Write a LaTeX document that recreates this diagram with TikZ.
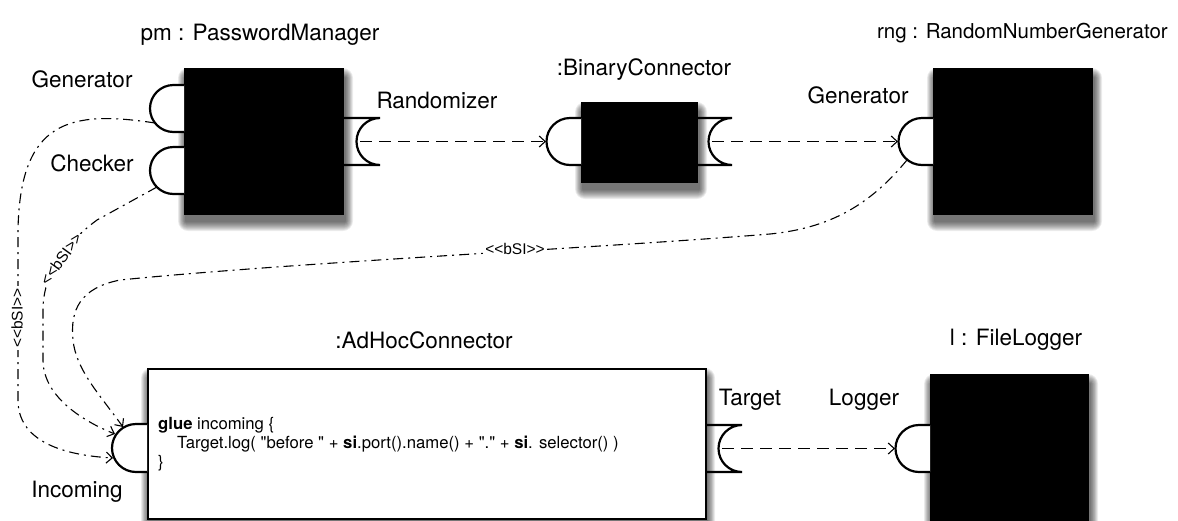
\documentclass[tikz,border=0pt]{standalone}
\usepackage{fontspec}
\setmainfont{TeX Gyre Heros}[Ligatures=TeXOff]
\newfontfamily\stfont{Liberation Sans}[Ligatures=TeXOff]
\usetikzlibrary{arrows.meta}
\newcommand\mysoftshadow[4]{%
  \foreach \i in {1,...,10}{%
    \fill[black, opacity=0.075, rounded corners=\i pt] ({#1+2-0.8*\i},{#2+10-\i}) rectangle ({#3+2+0.8*\i},{#4+7+\i});
  }}
\begin{document}
\begin{tikzpicture}[x=1pt,y=-1pt,
  comp/.style={fill=black, draw=black, line width=0.5pt, inner sep=0pt, anchor=north west},
  codebox/.style={fill=white, draw=black, line width=2.2pt, inner sep=0pt, anchor=north west},
  port/.style={line width=2.2pt, fill=white},
  lbl/.style={font=\fontsize{22.5}{27}\selectfont, inner sep=0pt},
  code/.style={font=\fontsize{16.7}{19}\selectfont, inner sep=0pt, anchor=base west},
  dep/.style={line width=1.1pt, dash pattern=on 12pt off 7pt, -{Straight Barb[length=6pt,width=11pt]}},
  bsi/.style={line width=1.1pt, dash pattern=on 10pt off 5pt on 2pt off 5pt, -{Straight Barb[length=6pt,width=11pt]}},
  stereo/.style={font=\stfont\fontsize{15.5}{18}\selectfont, fill=white, inner sep=2pt}]
\path[use as bounding box] (0,0) rectangle (1178,520);

% shadows
\mysoftshadow{184}{68}{343}{214}
\mysoftshadow{581}{102}{697}{182}
\mysoftshadow{933}{68}{1092}{214}
\mysoftshadow{147}{368}{705}{518}
\mysoftshadow{930}{374}{1088}{518}

% components
\node[comp, minimum width=159pt, minimum height=146pt] (pm) at (184,68) {};
\node[comp, minimum width=116pt, minimum height=80pt] (bc) at (581,102) {};
\node[comp, minimum width=159pt, minimum height=146pt] (rng) at (933,68) {};
\node[codebox, minimum width=558pt, minimum height=150pt] (ah) at (147,368) {};
\node[comp, minimum width=158pt, minimum height=146pt] (fl) at (930,374) {};

% titles
\node[lbl] (tpm) at (260,35) {pm : PasswordManager};
\node[lbl] (tbc) at (644,70) {:BinaryConnector};
\node[lbl, font=\fontsize{20.5}{24}\selectfont, anchor=east] (trng) at (1168,33) {rng : RandomNumberGenerator};
\node[lbl] (tah) at (424,340) {:AdHocConnector};
\node[lbl] (tfl) at (1016,340) {l : FileLogger};

% port labels
\node[lbl] (lgen) at (82,79) {Generator};
\node[lbl] (lchk) at (92,163) {Checker};
\node[lbl] (lrnd) at (437,100) {Randomizer};
\node[lbl] (lrgen) at (858,95) {Generator};
\node[lbl] (ltgt) at (750,400) {Target};
\node[lbl] (llog) at (864,400) {Logger};
\node[lbl] (linc) at (77,492) {Incoming};

% code
\node[code] (c1) at (158,429) {\textbf{glue} incoming \{};
\node[code] (c2) at (177,448) {Target.log( "before " + \textbf{si}.port().name() + "." + \textbf{si}. selector() )};
\node[code] (c3) at (158,467) {\}};

% connector end points
\coordinate (pmGenP) at (155,123);
\coordinate (pmChkP) at (157,187);
\coordinate (pmRnd) at (360,141.5);
\coordinate (bcIn) at (546,141.5);
\coordinate (bcOut) at (712,141.5);
\coordinate (rngIn) at (898,141.5);
\coordinate (rngGenP) at (907,160);
\coordinate (incA) at (113,458);
\coordinate (incB) at (115,434);
\coordinate (incC) at (123,427);
\coordinate (tgtOut) at (722,448.5);
\coordinate (logIn) at (895,448.5);

% dashed dependencies
\draw[dep] (pmRnd) -- (bcIn);
\draw[dep] (bcOut) -- (rngIn);
\draw[dep] (tgtOut) -- (logIn);

% bSI connectors
\draw[bsi] (pmGenP) .. controls (70,110) and (20,120) .. (18,230) -- (18,400)
  .. controls (18,440) and (60,455) .. (incA);
\draw[bsi] (pmChkP) -- (97,220) .. controls (70,240) and (43,270) .. (43,310) -- (43,360)
  .. controls (43,395) and (80,420) .. (incB);
\draw[bsi] (rngGenP) .. controls (870,205) and (830,228) .. (770,234)
  .. controls (600,248) and (300,262) .. (120,280)
  .. controls (80,288) and (70,310) .. (73,340)
  .. controls (76,370) and (100,395) .. (incC);

\node[stereo, rotate=90] (s1) at (17,318) {<<bSI>>};
\node[stereo, rotate=54] (s2) at (61,259) {<<bSI>>};
\node[stereo] (s3) at (515,249) {<<bSI>>};

% ports
\draw[port] (184,85) -- (173.5,85) arc[start angle=270, end angle=90, radius=23.5] -- (184,132);
\draw[port] (184,147) -- (173.5,147) arc[start angle=270, end angle=90, radius=23.5] -- (184,194);
\draw[line width=2.2pt] (343,118) -- (380,118) arc[start angle=270, end angle=90, radius=23.5] -- (343,165);
\draw[port] (581,118) -- (570,118) arc[start angle=270, end angle=90, radius=23.5] -- (581,165);
\draw[line width=2.2pt] (697,118) -- (732,118) arc[start angle=270, end angle=90, radius=23.5] -- (697,165);
\draw[port] (933,118) -- (922,118) arc[start angle=270, end angle=90, radius=23.5] -- (933,165);
\draw[port] (147,424) -- (136,424) arc[start angle=270, end angle=90, radius=24] -- (147,472);
\draw[line width=2.2pt] (705,425) -- (742,425) arc[start angle=270, end angle=90, radius=23.5] -- (705,472);
\draw[port] (930,425) -- (919,425) arc[start angle=270, end angle=90, radius=23.5] -- (930,472);
\end{tikzpicture}
\end{document}
